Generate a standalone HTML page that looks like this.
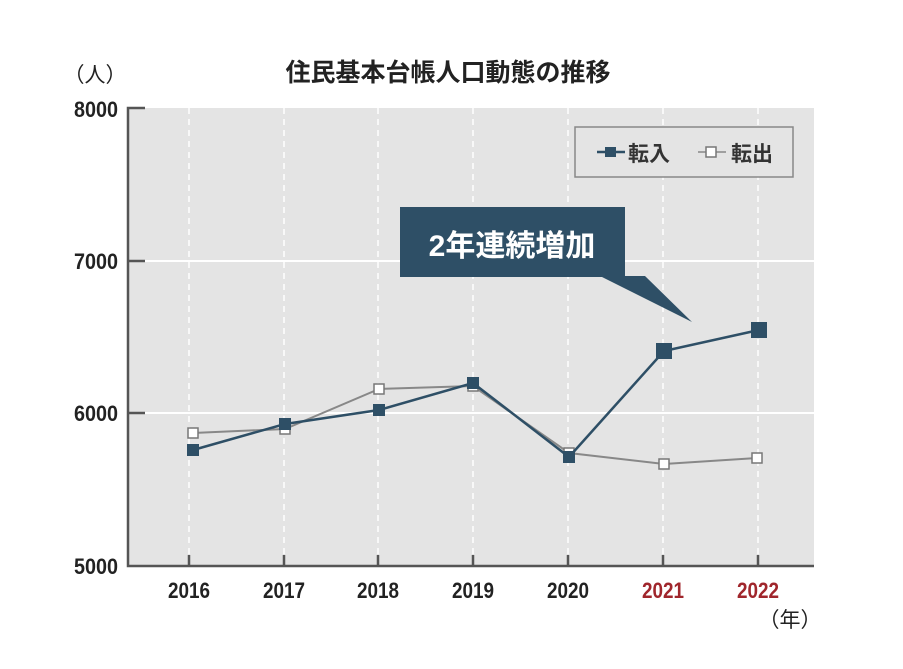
<!DOCTYPE html>
<html><head><meta charset="utf-8"><style>
body{margin:0;background:#fff;}
svg{display:block;font-family:"Liberation Sans","Noto Sans CJK JP",sans-serif;}
</style></head><body>
<svg width="903" height="669" viewBox="0 0 903 669">
<rect x="128" y="108" width="686" height="458" fill="#e4e4e4"/>
<g stroke="#fff" stroke-width="2">
<line x1="128" y1="261" x2="814" y2="261"/>
<line x1="128" y1="413" x2="814" y2="413"/>
</g>
<g stroke="#fff" stroke-width="1.5" stroke-dasharray="6,5">
<line x1="189" y1="108" x2="189" y2="566"/><line x1="284" y1="108" x2="284" y2="566"/>
<line x1="378" y1="108" x2="378" y2="566"/><line x1="473" y1="108" x2="473" y2="566"/>
<line x1="568" y1="108" x2="568" y2="566"/><line x1="663" y1="108" x2="663" y2="566"/>
<line x1="758" y1="108" x2="758" y2="566"/>
</g>
<g stroke="#555" stroke-width="2.5" fill="none">
<polyline points="145,108 128,108 128,566 814,566"/>
<line x1="128" y1="261" x2="145" y2="261"/><line x1="128" y1="413" x2="145" y2="413"/>
<line x1="189" y1="566" x2="189" y2="555"/><line x1="284" y1="566" x2="284" y2="555"/>
<line x1="378" y1="566" x2="378" y2="555"/><line x1="473" y1="566" x2="473" y2="555"/>
<line x1="568" y1="566" x2="568" y2="555"/><line x1="663" y1="566" x2="663" y2="555"/>
<line x1="758" y1="566" x2="758" y2="555"/>
</g>
<g font-size="22" font-weight="bold" fill="#222" text-anchor="end">
<text x="118" y="117" textLength="44" lengthAdjust="spacingAndGlyphs">8000</text><text x="118" y="269" textLength="44" lengthAdjust="spacingAndGlyphs">7000</text>
<text x="118" y="421" textLength="44" lengthAdjust="spacingAndGlyphs">6000</text><text x="118" y="574" textLength="44" lengthAdjust="spacingAndGlyphs">5000</text>
</g>
<g font-size="22" font-weight="bold" fill="#222">
<text x="168" y="598" textLength="42" lengthAdjust="spacingAndGlyphs">2016</text><text x="263" y="598" textLength="42" lengthAdjust="spacingAndGlyphs">2017</text>
<text x="357" y="598" textLength="42" lengthAdjust="spacingAndGlyphs">2018</text><text x="452" y="598" textLength="42" lengthAdjust="spacingAndGlyphs">2019</text>
<text x="547" y="598" textLength="42" lengthAdjust="spacingAndGlyphs">2020</text>
<text x="642" y="598" fill="#a0262c" textLength="42" lengthAdjust="spacingAndGlyphs">2021</text><text x="737" y="598" fill="#a0262c" textLength="42" lengthAdjust="spacingAndGlyphs">2022</text>
</g>
<text x="95" y="82" font-size="21" fill="#222" text-anchor="middle">（人）</text>
<text x="790" y="627" font-size="21" fill="#222" text-anchor="middle">（年）</text>
<text x="448" y="81" font-size="25" font-weight="bold" fill="#222" text-anchor="middle">住民基本台帳人口動態の推移</text>
<rect x="400" y="207" width="225" height="70" fill="#2e4f66"/>
<polygon points="600,276 645,276 692,322" fill="#2e4f66"/>
<text x="512" y="256" font-size="30" font-weight="bold" fill="#fff" text-anchor="middle">2年連続増加</text>
<rect x="575" y="127" width="218" height="50" fill="#e4e4e4" stroke="#888" stroke-width="1.5"/>
<line x1="597" y1="152" x2="625" y2="152" stroke="#2e4f66" stroke-width="2.5"/>
<rect x="605" y="147" width="11" height="10" fill="#2e4f66"/>
<text x="628" y="161" font-size="21" font-weight="bold" fill="#333">転入</text>
<line x1="698" y1="152" x2="726" y2="152" stroke="#888" stroke-width="1.5"/>
<rect x="706" y="147" width="10" height="10" fill="#fff" stroke="#777" stroke-width="1.5"/>
<text x="731" y="161" font-size="21" font-weight="bold" fill="#333">転出</text>
<polyline points="193,433 285,429 379,389 473,386 569,453 664,464 757,458" fill="none" stroke="#888" stroke-width="2"/>
<g fill="#fff" stroke="#777" stroke-width="1.5">
<rect x="188" y="428" width="10" height="10"/><rect x="280" y="424" width="10" height="10"/>
<rect x="374" y="384" width="10" height="10"/><rect x="468" y="381" width="10" height="10"/>
<rect x="564" y="448" width="10" height="10"/><rect x="659" y="459" width="10" height="10"/>
<rect x="752" y="453" width="10" height="10"/>
</g>
<polyline points="193,450 285,424 379,410 473,383 569,457 664,351 759,330" fill="none" stroke="#2e4f66" stroke-width="2.5"/>
<g fill="#2e4f66">
<rect x="187" y="444" width="12" height="12"/><rect x="279" y="418" width="12" height="12"/>
<rect x="373" y="404" width="12" height="12"/><rect x="467" y="377" width="12" height="12"/>
<rect x="563" y="451" width="12" height="12"/><rect x="656" y="343" width="16" height="16"/>
<rect x="751" y="322" width="16" height="16"/>
</g>
</svg>
</body></html>
